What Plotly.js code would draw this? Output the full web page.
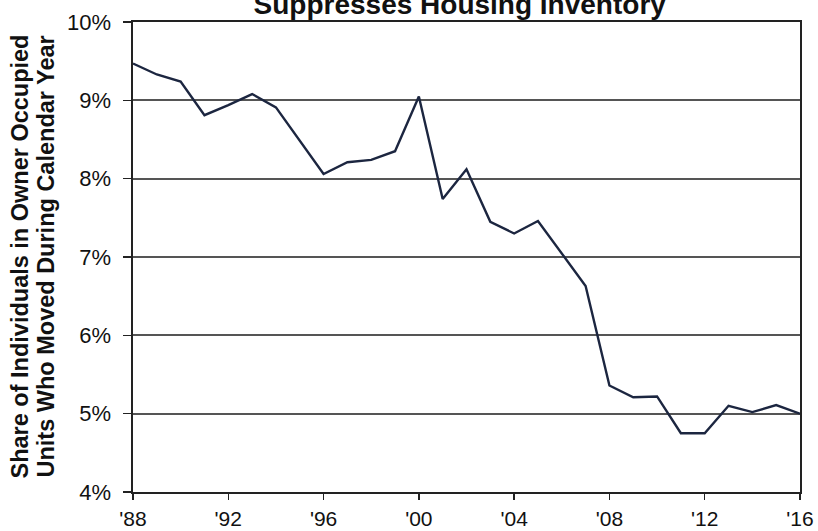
<!DOCTYPE html>
<html>
<head>
<meta charset="utf-8">
<script src="https://cdn.plot.ly/plotly-3.0.1.min.js"></script>
<style>html,body{margin:0;padding:0;background:#fff;}#chart{width:818px;height:531px;}</style>
</head>
<body>
<div id="chart"></div>
<script>
const years = [1988,1989,1990,1991,1992,1993,1994,1995,1996,1997,1998,1999,2000,2001,2002,2003,2004,2005,2006,2007,2008,2009,2010,2011,2012,2013,2014,2015,2016];
const moveShare = [9.47,9.33,9.24,8.81,8.94,9.08,8.91,8.48,8.06,8.21,8.24,8.35,9.05,7.74,8.12,7.45,7.30,7.46,7.05,6.63,5.36,5.21,5.22,4.75,4.75,5.10,5.02,5.11,5.00];
const xTickVals = [1988,1992,1996,2000,2004,2008,2012,2016];
const xTickText = ["'88","'92","'96","'00","'04","'08","'12","'16"];
const yTickVals = [4,5,6,7,8,9,10];
const yTickText = ["4%","5%","6%","7%","8%","9%","10%"];
const titleText = "Suppresses Housing Inventory";
const yTitleLines = ["Share of Individuals in Owner Occupied", "Units Who Moved During Calendar Year"];

const trace = {
  x: years, y: moveShare, type: 'scatter', mode: 'lines',
  line: {color: '#1c2640', width: 2.4}, hoverinfo: 'x+y'
};
const yTitleShifts = [-113.5, -87.5];
const layout = {
  width: 818, height: 531,
  margin: {l: 133, r: 18, t: 22, b: 39},
  paper_bgcolor: '#fff', plot_bgcolor: '#fff',
  font: {family: 'Arial, "Liberation Sans", sans-serif', color: '#111'},
  showlegend: false,
  title: {text: '<b>' + titleText + '</b>', x: 0.562, xanchor: 'center', y: 0.974, yanchor: 'bottom', font: {size: 28, color: '#111'}},
  xaxis: {
    range: [1988, 2016], tickmode: 'array', tickvals: xTickVals, ticktext: xTickText,
    showgrid: false, zeroline: false, showline: true, linecolor: '#222', linewidth: 1.6, mirror: true,
    ticks: 'outside', ticklen: 6, tickcolor: '#222', tickwidth: 1.4,
    tickfont: {size: 21, color: '#111'}, ticklabelstandoff: 1
  },
  yaxis: {
    range: [4, 10], tickmode: 'array', tickvals: yTickVals, ticktext: yTickText,
    showgrid: true, gridcolor: '#555', gridwidth: 1.9, zeroline: false,
    showline: true, linecolor: '#222', linewidth: 1.6, mirror: true,
    ticks: 'outside', ticklen: 8, tickcolor: '#222', tickwidth: 1.4,
    tickfont: {size: 22, color: '#111'}, ticklabelstandoff: 8
  },
  annotations: yTitleLines.map((t, i) => ({
    text: '<b>' + t + '</b>', xref: 'paper', yref: 'paper', x: 0, y: 0.5,
    xanchor: 'center', yanchor: 'middle', xshift: yTitleShifts[i], textangle: -90,
    showarrow: false, font: {size: 23.5, color: '#111'}
  }))
};
Plotly.newPlot('chart', [trace], layout, {displayModeBar: false, staticPlot: true});
</script>
</body>
</html>
